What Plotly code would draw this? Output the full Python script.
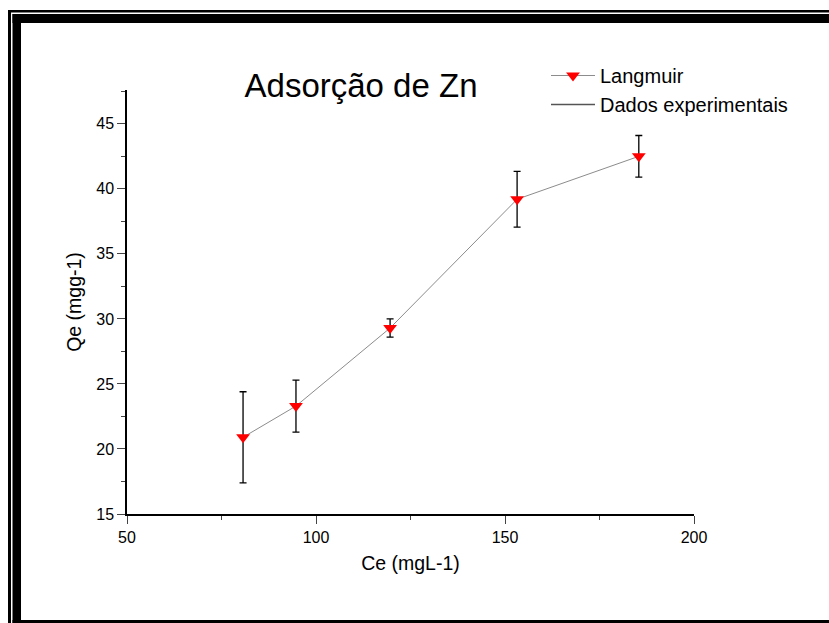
import plotly.graph_objects as go

# Data
ce_values = [80.7, 94.7, 119.6, 153.2, 185.4]
qe_values = [20.9, 23.3, 29.3, 39.2, 42.5]
qe_errors = [3.5, 2.0, 0.7, 2.15, 1.6]

x_tickvals = [50, 100, 150, 200]
y_tickvals = [15, 20, 25, 30, 35, 40, 45]

W, H = 829, 623
OFF = 0  # body margin removed via post_script
# plot area in screen pixels
SL, SR, ST, SB = 127, 694, 90, 514
ML, MT = SL - OFF, ST - OFF
MR, MB = W - (SR - OFF), H - (SB - OFF)
PW, PH = W - ML - MR, H - MT - MB


def px_x(p):
    return (p - OFF - ML) / PW


def px_y(p):
    return (H - MB - (p - OFF)) / PH


fig = go.Figure()

fig.add_trace(go.Scatter(
    x=ce_values, y=qe_values,
    mode="lines+markers",
    name="Langmuir",
    line=dict(color="#8c8c8c", width=1),
    marker=dict(symbol="triangle-down", color="#ff0000", size=12, line=dict(width=0)),
    error_y=dict(type="data", array=qe_errors, visible=True, color="black", thickness=1.3, width=3.5),
))

fig.add_trace(go.Scatter(
    x=[None], y=[None],
    mode="lines",
    name="Dados experimentais",
    line=dict(color="#555555", width=1.5),
))

shapes = []
def rect(x0, y0, x1, y1):
    shapes.append(dict(type="rect", xref="paper", yref="paper",
                       x0=px_x(x0), x1=px_x(x1), y0=px_y(y0), y1=px_y(y1),
                       fillcolor="black", line=dict(width=0), layer="above"))

# outer thin frame
rect(8, 10, 11, 660)
rect(8, 10, 860, 12.5)
# inner thick frame
rect(12.5, 14, 21, 660)
rect(12.5, 14, 860, 23)
rect(12.5, 620, 860, 660)

fig.update_layout(
    width=W, height=H,
    margin=dict(l=ML, r=MR, t=MT, b=MB, autoexpand=False),
    paper_bgcolor="white", plot_bgcolor="white",
    font=dict(family="Liberation Sans, Arial", color="black"),
    title=dict(text="Adsorção de Zn", x=px_x(361), xref="paper", xanchor="center",
               y=1 - (85 - OFF) / H, yanchor="middle", yref="container",
               font=dict(size=33, color="black")),
    showlegend=True,
    legend=dict(x=px_x(546), y=px_y(56), xanchor="left", yanchor="top",
                bgcolor="rgba(0,0,0,0)", font=dict(size=20), itemwidth=44,
                tracegroupgap=0),
    shapes=shapes,
    xaxis=dict(range=[50, 200], tickvals=x_tickvals, ticks="outside", ticklen=8, tickwidth=1.3,
               showline=True, linecolor="black", linewidth=1.5, showgrid=False, zeroline=False,
               tickfont=dict(size=16),
               minor=dict(ticks="outside", ticklen=4, tickwidth=1.3, dtick=25, tick0=50, showgrid=False),
               title=dict(text="Ce (mgL-1)", font=dict(size=19.5), standoff=11)),
    yaxis=dict(range=[15, 47.6], tickvals=y_tickvals, ticks="outside", ticklen=8, tickwidth=1.3,
               showline=True, linecolor="black", linewidth=1.5, showgrid=False, zeroline=False,
               tickfont=dict(size=16),
               minor=dict(ticks="outside", ticklen=4, tickwidth=1.3, dtick=2.5, tick0=15, showgrid=False),
               title=dict(text="Qe (mgg-1)", font=dict(size=19.5), standoff=9)),
)

fig.write_html("out.html", config={"displayModeBar": False},
               post_script="document.body.style.margin='0';")
